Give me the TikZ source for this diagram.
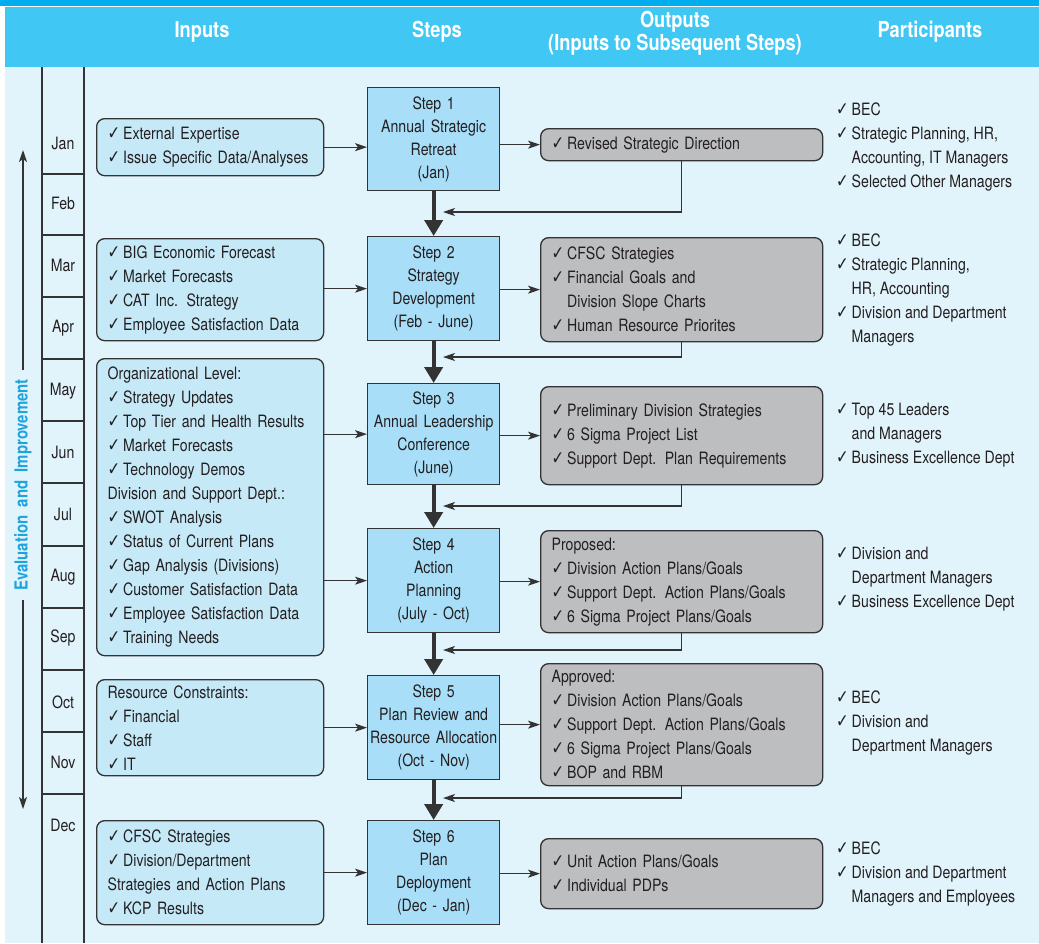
\documentclass[tikz,border=0pt]{standalone}
\usepackage{fontspec}
\setmainfont{TeX Gyre Heros}[FakeStretch=0.83]
\newfontfamily\ckfont{DejaVu Sans}[Scale=1.1,FakeStretch=0.8]
\usetikzlibrary{arrows.meta}

\definecolor{hdrtop}{HTML}{00AEEF}
\definecolor{hdr}{HTML}{40C7F4}
\definecolor{bodybg}{HTML}{E1F3FB}
\definecolor{incol}{HTML}{C6E9F8}
\definecolor{stepcol}{HTML}{A8DEF8}
\definecolor{outcol}{HTML}{BDBEC0}
\definecolor{edge}{HTML}{333333}
\definecolor{ink}{HTML}{231F20}
\definecolor{evalblue}{HTML}{1FA3DD}

\newcommand\ck{{\ckfont\bfseries ✓}\hspace{3pt}}
\newcommand\ckin{\hphantom{\ck}}

\tikzset{
  every node/.style={font=\fontsize{17}{24}\selectfont, text=ink},
  inbox/.style={draw=edge, line width=1.3pt, fill=incol, rounded corners=8pt,
    anchor=north west, text width=205pt, inner xsep=11pt, inner ysep=0pt, align=left},
  stepbox/.style={draw=edge, line width=1.3pt, fill=stepcol, anchor=north west,
    text width=130pt, inner xsep=1pt, inner ysep=0pt, align=center,
    font=\fontsize{17}{23}\selectfont},
  outbox/.style={draw=edge, line width=1.3pt, fill=outcol, rounded corners=8pt,
    anchor=north west, text width=260pt, inner xsep=11pt, inner ysep=0pt, align=left},
  partlist/.style={anchor=west, align=left, inner sep=0pt},
  month/.style={inner sep=0pt},
  hdrtext/.style={text=white, font=\fontsize{22}{23}\selectfont\bfseries, align=center},
  thin/.style={draw=edge, line width=1.3pt, -{Stealth[length=12pt,width=8pt,inset=3pt]}},
  thick/.style={draw=edge, line width=4pt, -{Triangle[length=16pt,width=18pt]}},
  grid/.style={draw=edge, line width=1.3pt},
}

\begin{document}
\begin{tikzpicture}[x=1pt,y=-1pt]
\useasboundingbox (0,0) rectangle (1039,943);

% background bands
\fill[white] (0,0) rectangle (1039,943);
\fill[hdrtop] (0,0) rectangle (1039,6);
\fill[hdr] (5,7) rectangle (1039,67);
\fill[bodybg] (5,67) rectangle (1039,943);

% column headings
\node[hdrtext] (hIn) at (202,32) {Inputs};
\node[hdrtext] (hSt) at (437,32) {Steps};
\node[hdrtext] (hOut) at (675,33) {Outputs\\(Inputs\ to\ Subsequent\ Steps)};
\node[hdrtext] (hPa) at (930,32) {Participants};

% month column
\draw[grid] (42,67) -- (42,943);
\draw[grid] (84,67) -- (84,943);
\foreach \yy in {174,235,297,359,421,483,546,608,670,732,794}
  \draw[grid] (42,\yy) -- (84,\yy);
\node[month] (m1) at (63,143) {Jan};
\node[month] (m2) at (63,203) {Feb};
\node[month] (m3) at (63,265) {Mar};
\node[month] (m4) at (63,328) {Apr};
\node[month] (m5) at (63,391) {May};
\node[month] (m6) at (63,452) {Jun};
\node[month] (m7) at (63,514) {Jul};
\node[month] (m8) at (63,577) {Aug};
\node[month] (m9) at (63,638) {Sep};
\node[month] (m10) at (63,702) {Oct};
\node[month] (m11) at (63,762) {Nov};
\node[month] (m12) at (63,825) {Dec};

% evaluation and improvement cycle
\node[rotate=90, text=evalblue, font=\fontsize{18}{20}\selectfont\bfseries,
  inner xsep=9pt, inner ysep=0pt] (ev) at (23,485) {Evaluation\ \ and\ \ Improvement};
\coordinate (evTop) at (23,150);
\coordinate (evBot) at (23,809);
\draw[thin] (ev.east) -- (evTop);
\draw[thin] (ev.west) -- (evBot);

% inputs
\node[inbox, minimum height=57pt] (in1) at (96,118)
  {\ck External Expertise\\\ck Issue Specific Data/Analyses};
\node[inbox, minimum height=102pt] (in2) at (96,238)
  {\ck BIG Economic Forecast\\\ck Market Forecasts\\\ck CAT Inc. Strategy\\\ck Employee Satisfaction Data};
\node[inbox, minimum height=297pt] (in3) at (96,358)
  {Organizational Level:\\\ck Strategy Updates\\\ck Top Tier and Health Results\\\ck Market Forecasts\\\ck Technology Demos\\Division and Support Dept.:\\\ck SWOT Analysis\\\ck Status of Current Plans\\\ck Gap Analysis (Divisions)\\\ck Customer Satisfaction Data\\\ck Employee Satisfaction Data\\\ck Training Needs};
\node[inbox, minimum height=96pt] (in4) at (96,679)
  {Resource Constraints:\\\ck Financial\\\ck Staff\\\ck IT};
\node[inbox, minimum height=104pt] (in5) at (96,820)
  {\ck CFSC Strategies\\\ck Division/Department\\Strategies and Action Plans\\\ck KCP Results};

% steps
\node[stepbox, minimum height=103pt] (s1) at (367,87) {Step 1\\Annual Strategic\\Retreat\\(Jan)};
\node[stepbox, minimum height=104pt] (s2) at (367,236) {Step 2\\Strategy\\Development\\(Feb - June)};
\node[stepbox, minimum height=101pt] (s3) at (367,383) {Step 3\\Annual Leadership\\Conference\\(June)};
\node[stepbox, minimum height=104pt] (s4) at (367,528) {Step 4\\Action\\Planning\\(July - Oct)};
\node[stepbox, minimum height=104pt] (s5) at (367,675) {Step 5\\Plan Review and\\Resource Allocation\\(Oct - Nov)};
\node[stepbox, minimum height=104pt] (s6) at (367,820) {Step 6\\Plan\\Deployment\\(Dec - Jan)};

% outputs
\node[outbox, minimum height=32pt] (o1) at (540,128) {\ck Revised Strategic Direction};
\node[outbox, minimum height=104pt] (o2) at (540,237)
  {\ck CFSC Strategies\\\ck Financial Goals and\\\ckin Division Slope Charts\\\ck Human Resource Priorites};
\node[outbox, minimum height=98pt] (o3) at (540,386)
  {\ck Preliminary Division Strategies\\\ck 6 Sigma Project List\\\ck Support Dept. Plan Requirements};
\node[outbox, minimum height=102pt] (o4) at (540,530)
  {Proposed:\\\ck Division Action Plans/Goals\\\ck Support Dept. Action Plans/Goals\\\ck 6 Sigma Project Plans/Goals};
\node[outbox, minimum height=122pt] (o5) at (540,663)
  {Approved:\\\ck Division Action Plans/Goals\\\ck Support Dept. Action Plans/Goals\\\ck 6 Sigma Project Plans/Goals\\\ck BOP and RBM};
\node[outbox, minimum height=70pt] (o6) at (540,838)
  {\ck Unit Action Plans/Goals\\\ck Individual PDPs};

% participants
\node[partlist] (p1) at (836,147)
  {\ck BEC\\\ck Strategic Planning, HR,\\\ckin Accounting, IT Managers\\\ck Selected Other Managers};
\node[partlist] (p2) at (836,290)
  {\ck BEC\\\ck Strategic Planning,\\\ckin HR, Accounting\\\ck Division and Department\\\ckin Managers};
\node[partlist] (p3) at (836,435)
  {\ck Top 45 Leaders\\\ckin and Managers\\\ck Business Excellence Dept};
\node[partlist] (p4) at (836,579)
  {\ck Division and\\\ckin Department Managers\\\ck Business Excellence Dept};
\node[partlist] (p5) at (836,723)
  {\ck BEC\\\ck Division and\\\ckin Department Managers};
\node[partlist] (p6) at (836,874)
  {\ck BEC\\\ck Division and Department\\\ckin Managers and Employees};

% inputs feed the steps
\draw[thin] (in1.east) -- (in1.east -| s1.west);
\draw[thin] (s2.west -| in2.east) -- (s2.west);
\draw[thin] (s3.west -| in3.east) -- (s3.west);
\draw[thin] (s4.west -| in3.east) -- (s4.west);
\draw[thin] (s5.west -| in4.east) -- (s5.west);
\draw[thin] (s6.west -| in5.east) -- (s6.west);

% steps produce outputs
\draw[thin] (o1.west -| s1.east) -- (o1.west);
\draw[thin] (o2.west -| s2.east) -- (o2.west);
\draw[thin] (o3.west -| s3.east) -- (o3.west);
\draw[thin] (o4.west -| s4.east) -- (o4.west);
\draw[thin] (o5.west -| s5.east) -- (o5.west);
\draw[thin] (o6.west -| s6.east) -- (o6.west);

% step sequence
\draw[thick] (s1.south) -- (s2.north);
\draw[thick] (s2.south) -- (s3.north);
\draw[thick] (s3.south) -- (s4.north);
\draw[thick] (s4.south) -- (s5.north);
\draw[thick] (s5.south) -- (s6.north);

% outputs fed back into the next step
\coordinate (fb1) at (443,212);
\coordinate (fb2) at (443,357);
\coordinate (fb3) at (443,506);
\coordinate (fb4) at (443,650);
\coordinate (fb5) at (443,798);
\draw[thin] (o1.south) |- (fb1);
\draw[thin] (o2.south) |- (fb2);
\draw[thin] (o3.south) |- (fb3);
\draw[thin] (o4.south) |- (fb4);
\draw[thin] (o5.south) |- (fb5);
\end{tikzpicture}
\end{document}
